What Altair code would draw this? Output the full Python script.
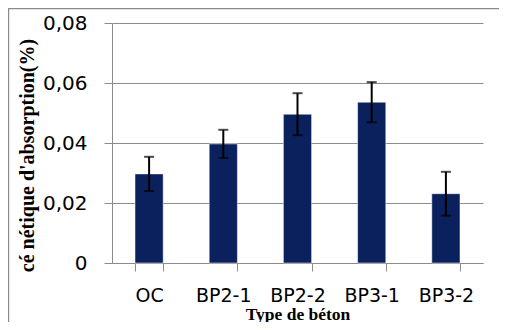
import altair as alt
import pandas as pd

categories = ["OC", "BP2-1", "BP2-2", "BP3-1", "BP3-2"]
values = [0.0297, 0.0397, 0.0496, 0.0536, 0.0231]
errors = [0.0057, 0.0047, 0.0070, 0.0067, 0.0073]
y_ticks = [0, 0.02, 0.04, 0.06, 0.08]

df = pd.DataFrame({"type": categories, "value": values, "err": errors})
df["lo"] = df["value"] - df["err"]
df["hi"] = df["value"] + df["err"]

GRID = "#8c8c8c"

x_enc = alt.X(
    "type:N",
    sort=categories,
    title="Type de béton",
    scale=alt.Scale(paddingInner=0.62, paddingOuter=0.31),
    axis=alt.Axis(
        labelAngle=0,
        labelFont="DejaVu Sans",
        labelFontSize=19,
        labelColor="black",
        labelPadding=15,
        tickBand="extent",
        tickSize=8,
        tickColor=GRID,
        domainColor=GRID,
        titleFont="Liberation Serif",
        titleFontWeight="bold",
        titleFontSize=17.5,
        titleColor="black",
        titlePadding=0,
    ),
)

y_scale = alt.Scale(domain=[0, 0.08], nice=False)
y_axis = alt.Axis(
    values=y_ticks,
    labelExpr="datum.value == 0 ? '0' : replace(format(datum.value, '.2f'), '.', ',')",
    labelFont="DejaVu Sans",
    labelFontSize=20,
    labelColor="black",
    labelPadding=17,
    tickSize=8,
    tickColor=GRID,
    domainColor=GRID,
    gridColor=GRID,
    grid=True,
    title="cé nétique d'absorption(%)",
    titleFont="Liberation Serif",
    titleFontWeight="bold",
    titleFontSize=20,
    titleColor="black",
    titlePadding=5,
    titleY=132,
)

bars = alt.Chart(df).mark_bar(color="#0b215e", stroke="#ffffff", strokeWidth=0.5).encode(
    x=x_enc,
    y=alt.Y("value:Q", scale=y_scale, axis=y_axis),
)

rules = alt.Chart(df).mark_rule(color="black", strokeWidth=2).encode(
    x=alt.X("type:N", sort=categories),
    y=alt.Y("lo:Q", scale=y_scale),
    y2="hi:Q",
)
cap_lo = alt.Chart(df).mark_tick(color="black", size=10, thickness=2, orient="horizontal").encode(
    x=alt.X("type:N", sort=categories),
    y=alt.Y("lo:Q", scale=y_scale),
)
cap_hi = alt.Chart(df).mark_tick(color="black", size=10, thickness=2, orient="horizontal").encode(
    x=alt.X("type:N", sort=categories),
    y=alt.Y("hi:Q", scale=y_scale),
)

frame = alt.Chart(pd.DataFrame({"f": [0]})).mark_rect(
    fill=None, stroke="#8a8a8a", strokeWidth=1.2
).encode(
    x=alt.value(-103.4), x2=alt.value(420), y=alt.value(-14.4), y2=alt.value(400)
)

chart = (
    alt.layer(bars, rules, cap_lo, cap_hi, frame)
    .properties(
        width=371,
        height=240,
        autosize=alt.AutoSizeParams(type="none"),
        padding={"left": 104, "top": 15, "right": 16, "bottom": 59},
    )
    .configure_view(stroke=None)
)

chart.save("out.html", embed_options={"renderer": "svg", "actions": False})
